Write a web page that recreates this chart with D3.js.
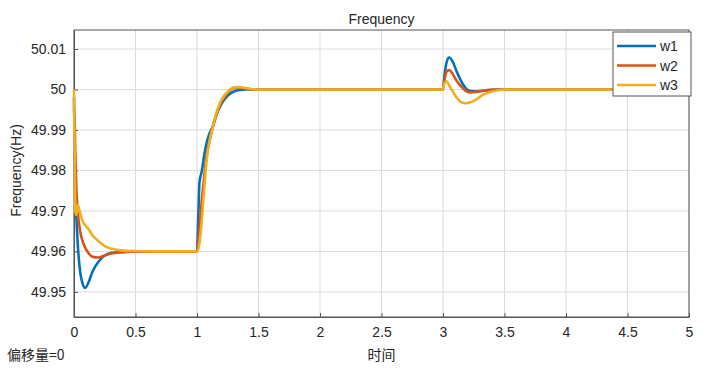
<!DOCTYPE html>
<html>
<head>
<meta charset="utf-8">
<script src="https://d3js.org/d3.v7.min.js"></script>
<style>
  body { margin: 0; background: #fff; }
  text { font-family: "Liberation Sans", Arial, sans-serif; fill: #262626; }
</style>
</head>
<body>
<div id="chart"></div>
<script>
// time samples (s), shared by all series
const time = [0, 0.005, 0.01, 0.02, 0.03, 0.05, 0.07, 0.09, 0.12, 0.15, 0.2, 0.25, 0.3, 0.4, 0.5, 0.7,
  1.0, 1.01, 1.02, 1.04, 1.06, 1.08, 1.1, 1.13, 1.16, 1.2, 1.25, 1.3, 1.35, 1.4, 1.5, 2.0,
  3.0, 3.01, 3.03, 3.05, 3.08, 3.11, 3.14, 3.18, 3.22, 3.27, 3.33, 3.4, 3.5, 4.0, 5.0];

const w1 = [49.998, 49.985, 49.975, 49.968, 49.962, 49.955, 49.952, 49.951, 49.9525, 49.955, 49.9575, 49.959, 49.9596, 49.9599, 49.96, 49.96,
  49.96, 49.968, 49.977, 49.98, 49.984, 49.987, 49.989, 49.991, 49.994, 49.9965, 49.9985, 49.9995, 49.9999, 50.0, 50.0, 50.0,
  50.0, 50.003, 50.0068, 50.0079, 50.0068, 50.0045, 50.0025, 50.0005, 49.9996, 49.9995, 49.9997, 49.9999, 50.0, 50.0, 50.0];

const w2 = [49.995, 49.993, 49.985, 49.975, 49.97, 49.965, 49.9625, 49.961, 49.9595, 49.9587, 49.9585, 49.959, 49.9595, 49.9598, 49.96, 49.96,
  49.96, 49.962, 49.966, 49.973, 49.979, 49.984, 49.987, 49.991, 49.994, 49.997, 49.9992, 50.0004, 50.0004, 50.0002, 50.0, 50.0,
  50.0, 50.002, 50.0045, 50.0048, 50.0038, 50.0022, 50.001, 49.9998, 49.9993, 49.9994, 49.9997, 49.9999, 50.0, 50.0, 50.0];

const w3 = [50.0, 49.985, 49.97, 49.969, 49.9715, 49.9695, 49.9675, 49.9665, 49.9655, 49.964, 49.9625, 49.9613, 49.9607, 49.9602, 49.9601, 49.96,
  49.96, 49.9605, 49.962, 49.968, 49.976, 49.983, 49.987, 49.991, 49.9945, 49.9975, 49.9995, 50.0005, 50.0006, 50.0003, 50.0, 50.0,
  50.0, 50.0015, 50.002, 50.001, 49.9995, 49.998, 49.997, 49.9966, 49.9968, 49.9975, 49.9988, 49.9995, 50.0, 50.0, 50.0];

const seriesNames = ["w1", "w2", "w3"];
const seriesColors = ["#0072BD", "#D95319", "#EDB120"];
const xTicks = [0, 0.5, 1, 1.5, 2, 2.5, 3, 3.5, 4, 4.5, 5];
const yTicks = [49.95, 49.96, 49.97, 49.98, 49.99, 50, 50.01];

const width = 709, height = 375;
const margin = { left: 74, right: 20, top: 30, bottom: 58 };

const svg = d3.select("#chart").append("svg")
  .attr("width", width).attr("height", height);

const x = d3.scaleLinear().domain([0, 5]).range([margin.left, width - margin.right]);
const y = d3.scaleLinear().domain([49.9438, 50.0147]).range([height - margin.bottom, margin.top]);

// grid
svg.append("g").selectAll("line").data(xTicks).enter().append("line")
  .attr("x1", d => x(d)).attr("x2", d => x(d))
  .attr("y1", margin.top).attr("y2", height - margin.bottom)
  .style("stroke", "#dcdcdc").style("stroke-width", 1);
svg.append("g").selectAll("line").data(yTicks).enter().append("line")
  .attr("x1", margin.left).attr("x2", width - margin.right)
  .attr("y1", d => y(d)).attr("y2", d => y(d))
  .style("stroke", "#dcdcdc").style("stroke-width", 1);

// axes (ticks inside, like matlab)
const xAxis = svg.append("g")
  .attr("transform", `translate(0,${height - margin.bottom})`)
  .call(d3.axisBottom(x).tickValues(xTicks).tickFormat(d3.format("")).tickSizeInner(-4).tickSizeOuter(0).tickPadding(10));
const yAxis = svg.append("g")
  .attr("transform", `translate(${margin.left},0)`)
  .call(d3.axisLeft(y).tickValues(yTicks).tickFormat(d => d3.format("")(+d.toFixed(2))).tickSizeInner(-4).tickSizeOuter(0).tickPadding(8));
[xAxis, yAxis].forEach(a => {
  a.selectAll("text").style("font-size", "14px");
  a.selectAll("line,path").style("stroke", "#555");
});

// box
svg.append("rect")
  .attr("x", margin.left).attr("y", margin.top)
  .attr("width", width - margin.left - margin.right)
  .attr("height", height - margin.top - margin.bottom)
  .style("fill", "none").style("stroke", "#555").style("stroke-width", 1);

// lines
const line = d3.line().x((d, i) => x(time[i])).y(d => y(d)).curve(d3.curveMonotoneX);
[w1, w2, w3].forEach((s, i) => {
  svg.append("path").datum(s).attr("d", line)
    .style("fill", "none").style("stroke", seriesColors[i]).style("stroke-width", 2.6);
});

// legend
const lg = svg.append("g").attr("transform", "translate(613,32)");
lg.append("rect").attr("width", 78).attr("height", 64)
  .style("fill", "#fff").style("stroke", "#555");
seriesNames.forEach((n, i) => {
  const yy = 14 + i * 19.5;
  lg.append("line").attr("x1", 4).attr("x2", 43).attr("y1", yy).attr("y2", yy)
    .style("stroke", seriesColors[i]).style("stroke-width", 2.6);
  lg.append("text").attr("x", 47).attr("y", yy + 5).text(n).style("font-size", "14px");
});

// titles
svg.append("text").attr("x", x(2.5)).attr("y", 24).attr("text-anchor", "middle")
  .style("font-size", "14px").text("Frequency");
svg.append("text").attr("transform", `translate(21,${y(49.98)}) rotate(-90)`)
  .attr("text-anchor", "middle").style("font-size", "14px").text("Frequency(Hz)");
svg.append("text").attr("x", x(2.5)).attr("y", 360).attr("text-anchor", "middle")
  .style("font-family", "'Noto Sans CJK SC', sans-serif").style("font-size", "14px").text("时间");
svg.append("text").attr("x", 7).attr("y", 360)
  .style("font-family", "'Noto Sans CJK SC', sans-serif").style("font-size", "14px").text("偏移量=0");
</script>
</body>
</html>
